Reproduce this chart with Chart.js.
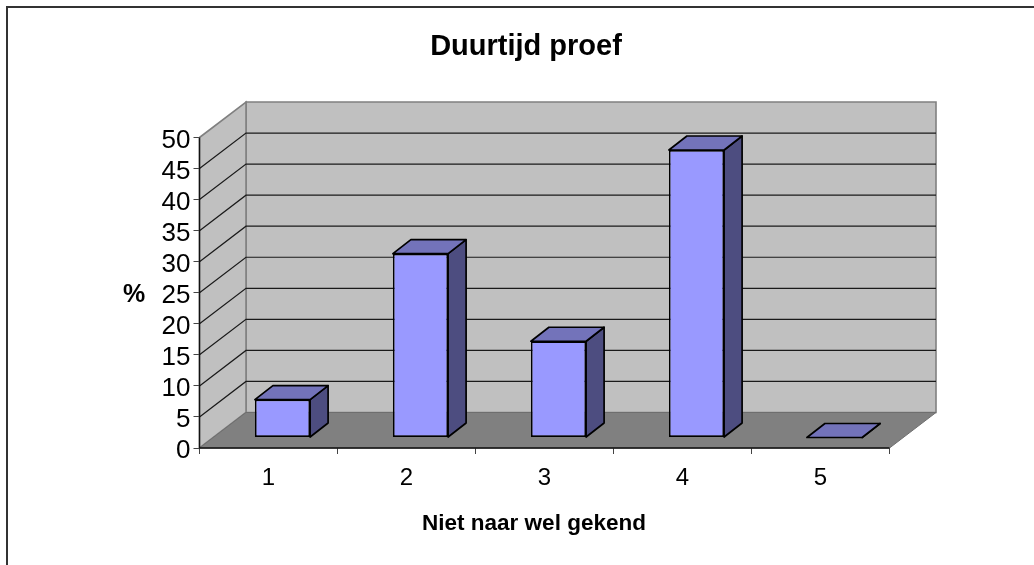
<!DOCTYPE html>
<html>
<head>
<meta charset="utf-8">
<title>Duurtijd proef</title>
<script src="https://cdn.jsdelivr.net/npm/chart.js@4/dist/chart.umd.min.js"></script>
<style>
  html, body { margin: 0; padding: 0; background: #fff; }
  canvas { display: block; }
</style>
</head>
<body>
<canvas id="chart" width="1034" height="565"></canvas>
<script>
// values
const categories = ['1', '2', '3', '4', '5'];
const percentages = [6.1, 29.6, 15.5, 46.3, 0];
const chartTitle = 'Duurtijd proef';
const xTitle = 'Niet naar wel gekend';
const yTitle = '%';

const FONT = '"Liberation Sans", Arial, sans-serif';

// pseudo 3D offsets in px
const WALL_DX = 46.5, WALL_DY = -35.5;
const BAR_SHIFT_X = 14, BAR_SHIFT_Y = -10.5;
const BAR_DX = 18, BAR_DY = -14;

function poly(ctx, pts, fill, stroke, lw) {
    ctx.beginPath();
    pts.forEach((p, i) => i ? ctx.lineTo(p[0], p[1]) : ctx.moveTo(p[0], p[1]));
    ctx.closePath();
    if (fill) { ctx.fillStyle = fill; ctx.fill(); }
    if (stroke) { ctx.strokeStyle = stroke; ctx.lineWidth = lw; ctx.stroke(); }
}

const box3d = {
    id: 'box3d',
    // walls, floor and gridlines behind the bars
    beforeDatasetsDraw(chart) {
        const { ctx, chartArea: a, scales: { y } } = chart;
        const dx = WALL_DX, dy = WALL_DY;
        ctx.save();
        poly(ctx, [[a.left + dx, a.top + dy], [a.right + dx, a.top + dy], [a.right + dx, a.bottom + dy], [a.left + dx, a.bottom + dy]], '#c0c0c0', '#808080', 1.6);
        poly(ctx, [[a.left, a.top], [a.left + dx, a.top + dy], [a.left + dx, a.bottom + dy], [a.left, a.bottom]], '#c0c0c0', '#808080', 1.6);
        poly(ctx, [[a.left, a.bottom], [a.right, a.bottom], [a.right + dx, a.bottom + dy], [a.left + dx, a.bottom + dy]], '#808080', '#6e6e6e', 1);

        ctx.strokeStyle = '#1a1a1a';
        ctx.lineWidth = 1.2;
        y.ticks.forEach(t => {
            if (t.value === 0 || t.value === y.max) return;
            const py = y.getPixelForValue(t.value);
            ctx.beginPath();
            ctx.moveTo(a.left, py);
            ctx.lineTo(a.left + dx, py + dy);
            ctx.lineTo(a.right + dx, py + dy);
            ctx.stroke();
        });

        // front axis lines
        ctx.strokeStyle = '#111';
        ctx.lineWidth = 1.4;
        ctx.beginPath();
        ctx.moveTo(a.left, a.top);
        ctx.lineTo(a.left, a.bottom);
        ctx.lineTo(a.right, a.bottom);
        ctx.stroke();
        ctx.restore();
    },
    // side and top of each bar, then shift the real bars onto the floor
    beforeDatasetDraw(chart, args) {
        const { ctx } = chart;
        ctx.save();
        ctx.translate(BAR_SHIFT_X, BAR_SHIFT_Y);
        ctx.lineJoin = 'round';
        args.meta.data.forEach(el => {
            const l = el.x - el.width / 2, r = el.x + el.width / 2;
            poly(ctx, [[r, el.y], [r + BAR_DX, el.y + BAR_DY], [r + BAR_DX, el.base + BAR_DY], [r, el.base]], '#4d4d80', '#000', 1.7);
            poly(ctx, [[l, el.y], [l + BAR_DX, el.y + BAR_DY], [r + BAR_DX, el.y + BAR_DY], [r, el.y]], '#7373ba', '#000', 1.7);
        });
    },
    afterDatasetDraw(chart) {
        chart.ctx.restore();
    },
    // texts that sit off centre or unrotated, and the outer frame
    afterDraw(chart) {
        const { ctx, width, height } = chart;
        ctx.save();
        ctx.strokeStyle = '#333';
        ctx.lineWidth = 2;
        ctx.beginPath();
        ctx.moveTo(7, height);
        ctx.lineTo(7, 7);
        ctx.lineTo(width, 7);
        ctx.stroke();
        ctx.fillStyle = '#000';
        ctx.textAlign = 'center';
        ctx.textBaseline = 'middle';
        ctx.font = 'bold 29px ' + FONT;
        ctx.fillText(chartTitle, 526, 47);
        ctx.font = 'bold 22.5px ' + FONT;
        ctx.fillText(xTitle, 534, 524);
        ctx.font = 'bold 25px ' + FONT;
        ctx.fillText(yTitle, 134, 295);
        ctx.restore();
    }
};

new Chart(document.getElementById('chart'), {
    type: 'bar',
    data: {
        labels: categories,
        datasets: [{
            data: percentages,
            backgroundColor: '#9999ff',
            borderColor: '#000',
            borderWidth: 1.7,
            borderSkipped: false,
            categoryPercentage: 1,
            barPercentage: 0.4,
            clip: false
        }]
    },
    options: {
        responsive: false,
        animation: false,
        layout: { padding: { left: 0, top: 137.5, right: 144.5, bottom: 0 } },
        plugins: { legend: { display: false }, title: { display: false }, tooltip: { enabled: false } },
        scales: {
            x: {
                afterFit: s => { s.height = 117; },
                grid: { drawOnChartArea: false, offset: true, tickLength: 6, color: '#444' },
                border: { display: false },
                ticks: { color: '#000', font: { family: FONT, size: 24 }, padding: 10, maxRotation: 0 }
            },
            y: {
                min: 0,
                max: 50,
                afterFit: s => { s.width = 199.5; },
                grid: { drawOnChartArea: false, tickLength: 6, color: '#444' },
                border: { display: false },
                ticks: { stepSize: 5, autoSkip: false, color: '#000', font: { family: FONT, size: 26 }, padding: 3, labelOffset: 3 }
            }
        }
    },
    plugins: [box3d]
});
</script>
</body>
</html>
